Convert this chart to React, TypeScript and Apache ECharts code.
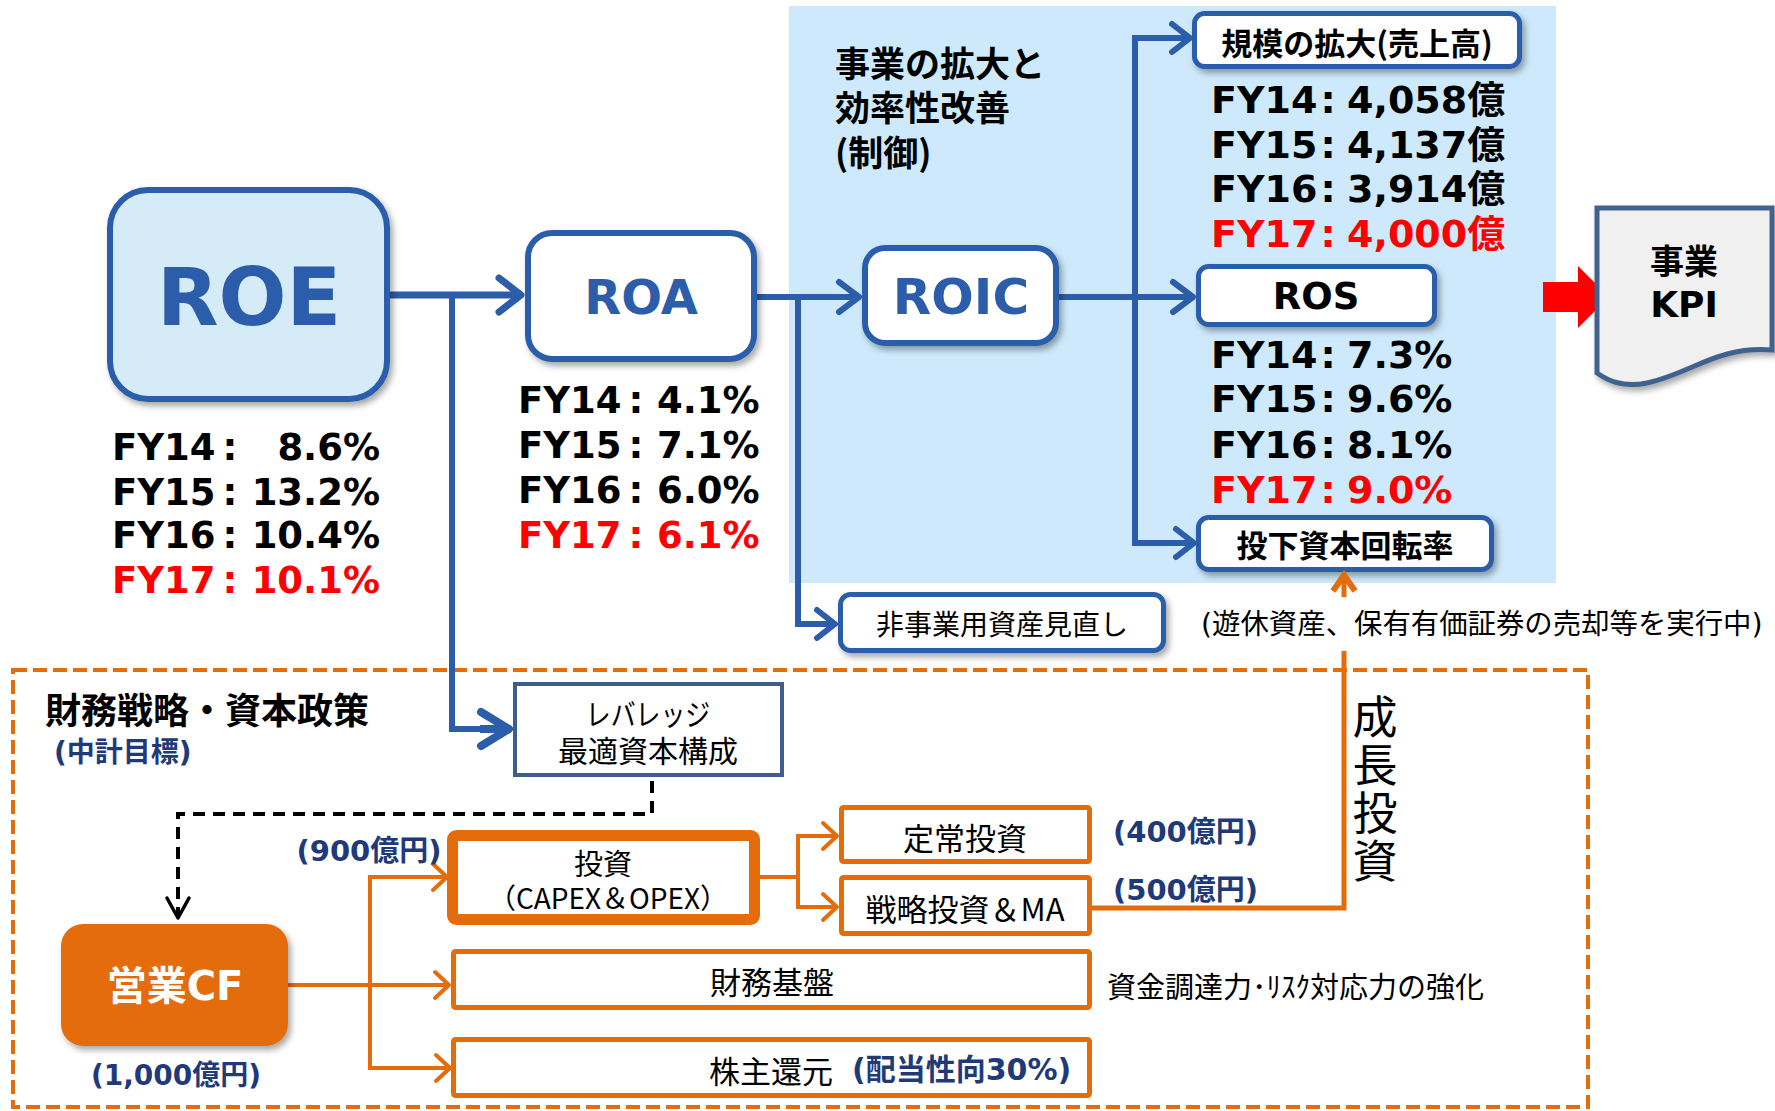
import React, { useEffect, useRef } from 'react';
import * as echarts from 'echarts';

// ---- data ----
const years = ['FY14', 'FY15', 'FY16', 'FY17'];
const roeValues = ['8.6%', '13.2%', '10.4%', '10.1%'];
const roaValues = ['4.1%', '7.1%', '6.0%', '6.1%'];
const salesValues = ['4,058億', '4,137億', '3,914億', '4,000億'];
const rosValues = ['7.3%', '9.6%', '8.1%', '9.0%'];
const controlTitle = ['事業の拡大と', '効率性改善', '(制御)'];
const growthChars = ['成', '長', '投', '資'];
const leverageLines = ['レバレッジ', '最適資本構成'];
const investLines = ['投資', '（CAPEX＆OPEX）'];
const investAmount = '(900億円)';
const regularAmount = '(400億円)';
const strategicAmount = '(500億円)';
const cfAmount = '(1,000億円)';
const payoutLabel = '(配当性向30%)';

// ---- styles ----
const LAT = '"DejaVu Sans", "Noto Sans CJK JP", sans-serif';
const CJK = '"Noto Sans CJK JP", "DejaVu Sans", sans-serif';
const BLUE = '#2c5daa';
const LIGHT = '#d5ebf8';
const BG = '#cde9fb';
const ORANGE = '#e46c0a';
const NAVY = '#1f3a7a';
const RED = '#ff0000';
const SH = { shadowBlur: 6, shadowOffsetX: 3, shadowOffsetY: 4, shadowColor: 'rgba(0,0,0,0.35)' };

echarts.graphic.registerShape(
  'kpiDoc',
  echarts.graphic.extendPath('M0,0 L175,0 L175,142 C120,138 95,165 50,175 C25,180 10,172 0,165 Z', {})
);

const f = (size: number, bold: boolean, fam = CJK) => `${bold ? 'bold ' : ''}${size}px ${fam}`;

function txt(x: number, y: number, s: string, font: string, fill = '#000', align = 'center', z = 5): any {
  return {
    type: 'text', x, y, z,
    style: { text: s, font, fill, textAlign: align, textVerticalAlign: 'middle', align, verticalAlign: 'middle' },
  };
}
function box(x: number, y: number, w: number, h: number, style: any, r = 0, z = 3): any {
  return { type: 'rect', z, shape: { x, y, width: w, height: h, r }, style };
}
function line(points: number[][], stroke: string, lineWidth: number, extra: any = {}, z = 2): any {
  return { type: 'polyline', z, shape: { points }, style: { stroke, lineWidth, fill: null, lineJoin: 'miter', ...extra } };
}
function chevronR(tx: number, ty: number, L: number, H: number, stroke: string, w: number, z = 4): any {
  return line([[tx - L, ty - H], [tx, ty], [tx - L, ty + H]], stroke, w, { lineCap: 'round', lineJoin: 'round' }, z);
}

function buildGraphics(): any[] {
  const g: any[] = [];
  // background panels
  g.push(box(789, 6, 767, 577, { fill: BG }, 0, 0));
  g.push(box(13, 670, 1575, 437, { fill: null, stroke: ORANGE, lineWidth: 4, lineDash: [14, 6] }, 0, 1));

  // blue connectors
  g.push(line([[390, 295], [518, 295]], BLUE, 7));
  g.push(chevronR(521, 295, 22, 17, BLUE, 7));
  g.push(line([[452, 295], [452, 729], [505, 729]], BLUE, 6));
  g.push(line([[480, 729], [505, 729]], BLUE, 8));
  g.push(chevronR(509, 729, 28, 17, BLUE, 8));
  g.push(line([[757, 297], [856, 297]], BLUE, 6));
  g.push(chevronR(859, 297, 20, 15, BLUE, 6));
  g.push(line([[798, 297], [798, 624], [832, 624]], BLUE, 6));
  g.push(chevronR(835, 624, 18, 14, BLUE, 6));
  g.push(line([[1059, 297], [1190, 297]], BLUE, 6));
  g.push(chevronR(1193, 297, 20, 15, BLUE, 6));
  g.push(line([[1186, 38], [1135, 38], [1135, 543], [1190, 543]], BLUE, 6));
  g.push(chevronR(1190, 38, 18, 14, BLUE, 6));
  g.push(chevronR(1194, 543, 18, 14, BLUE, 6));

  // blue boxes
  g.push(box(110, 190, 277, 209, { fill: LIGHT, stroke: BLUE, lineWidth: 6, ...SH }, 38));
  g.push(box(528, 233, 226, 126, { fill: '#fff', stroke: BLUE, lineWidth: 6, ...SH }, 24));
  g.push(box(865, 248, 191, 95, { fill: '#fff', stroke: BLUE, lineWidth: 6, ...SH }, 20));
  g.push(box(1194.5, 13.5, 325, 53, { fill: '#fff', stroke: BLUE, lineWidth: 5, ...SH }, 10));
  g.push(box(1198.5, 266.5, 236, 58, { fill: '#fff', stroke: BLUE, lineWidth: 5, ...SH }, 10));
  g.push(box(1198.5, 517.5, 293, 52, { fill: '#fff', stroke: BLUE, lineWidth: 5, ...SH }, 10));
  g.push(box(840.5, 594.5, 323, 56, { fill: '#fff', stroke: BLUE, lineWidth: 5, ...SH }, 10));

  g.push(txt(249, 297, 'ROE', f(80, true, LAT), BLUE));
  g.push(txt(641, 297, 'ROA', f(48, true, LAT), BLUE));
  g.push(txt(961, 297, 'ROIC', f(50, true, LAT), BLUE));
  g.push(txt(1357, 41, '規模の拡大(売上高)', f(31, true), '#000'));
  g.push(txt(1316, 296, 'ROS', f(37, true, LAT), '#000'));
  g.push(txt(1345, 543, '投下資本回転率', f(31, true), '#000'));
  g.push(txt(1002, 623, '非事業用資産見直し', f(28, false), '#000'));

  // title in blue panel
  const ctY = [61, 105, 150];
  controlTitle.forEach((s, i) => g.push(txt(835, ctY[i], s, f(35, true), '#000', 'left')));

  // value blocks
  const roeY = [447, 492, 535, 580];
  const roaY = [400, 445, 490, 535];
  const salesY = [100, 145, 189, 234];
  const rosY = [355, 399, 445, 490];
  years.forEach((yr, i) => {
    const c = i === years.length - 1 ? RED : '#000';
    // ROE
    g.push(txt(112, roeY[i], yr, f(37, true, LAT), c, 'left'));
    g.push(txt(230, roeY[i], ':', f(37, true, LAT), c, 'center'));
    g.push(txt(380, roeY[i], roeValues[i], f(37, true, LAT), c, 'right'));
    // ROA
    g.push(txt(518, roaY[i], yr, f(37, true, LAT), c, 'left'));
    g.push(txt(636, roaY[i], ':', f(37, true, LAT), c, 'center'));
    g.push(txt(657, roaY[i], roaValues[i], f(37, true, LAT), c, 'left'));
    // Sales
    g.push(txt(1211, salesY[i], yr, f(38, true, LAT), c, 'left'));
    g.push(txt(1328, salesY[i], ':', f(38, true, LAT), c, 'center'));
    g.push(txt(1347, salesY[i], salesValues[i], f(38, true, LAT), c, 'left'));
    // ROS
    g.push(txt(1211, rosY[i], yr, f(38, true, LAT), c, 'left'));
    g.push(txt(1328, rosY[i], ':', f(38, true, LAT), c, 'center'));
    g.push(txt(1347, rosY[i], rosValues[i], f(38, true, LAT), c, 'left'));
  });

  // red arrow + KPI document
  g.push({ type: 'polygon', z: 3, shape: { points: [[1543, 282], [1578, 282], [1578, 266], [1609, 297], [1578, 328], [1578, 312], [1543, 312]] }, style: { fill: RED } });
  g.push({ type: 'kpiDoc', z: 3, x: 1597, y: 208, style: { fill: '#f0f0f0', stroke: '#41628f', lineWidth: 5, ...SH } });
  g.push(txt(1684, 259, '事業', f(34, true), '#000'));
  g.push(txt(1684, 304, 'KPI', f(36, true, LAT), '#000'));

  // note
  g.push(txt(1201, 624, '(遊休資産、保有有価証券の売却等を実行中)', f(28.4, false, LAT), '#000', 'left'));

  // finance section titles
  g.push(txt(45, 708, '財務戦略・資本政策', f(36, true), '#000', 'left'));
  g.push(txt(54, 752, '(中計目標)', f(28, true, LAT), NAVY, 'left'));

  // leverage box
  g.push(box(515, 684, 267, 91, { fill: '#fff', stroke: '#3e5f8c', lineWidth: 4 }));
  const lev0 = txt(648, 712, leverageLines[0], f(30, false), '#000');
  lev0.scaleX = 0.83;
  g.push(lev0);
  g.push(txt(648, 749, leverageLines[1], f(30, false), '#000'));

  // dashed black connector
  g.push(line([[652, 781], [652, 814], [178, 814], [178, 916]], '#000', 4, { lineDash: [12, 8] }));
  g.push(line([[167, 898], [178, 918], [189, 898]], '#000', 3.5, { lineCap: 'round', lineJoin: 'round' }, 4));

  // orange connectors
  g.push(line([[288, 985], [447, 985]], ORANGE, 4));
  g.push(chevronR(449, 985, 14, 13, ORANGE, 4));
  g.push(line([[445, 877], [370, 877], [370, 1068], [447, 1068]], ORANGE, 4));
  g.push(chevronR(447, 877, 14, 13, ORANGE, 4));
  g.push(chevronR(450, 1068, 14, 13, ORANGE, 4));
  g.push(line([[760, 877], [798, 877]], ORANGE, 4));
  g.push(line([[834, 836], [798, 836], [798, 907], [834, 907]], ORANGE, 4));
  g.push(chevronR(837, 836, 14, 13, ORANGE, 4));
  g.push(chevronR(837, 907, 14, 13, ORANGE, 4));
  g.push(line([[1092, 908], [1344, 908], [1344, 651]], ORANGE, 5));
  g.push(line([[1344, 597], [1344, 578]], ORANGE, 5));
  g.push(line([[1333, 591], [1344, 575], [1355, 591]], ORANGE, 6, { lineJoin: 'miter' }, 4));

  // CF box
  g.push(box(61, 924, 227, 122, { fill: ORANGE, ...SH }, 22));
  g.push(txt(175, 986, '営業CF', f(40, true, LAT), '#fff'));
  g.push(txt(176, 1075, cfAmount, f(28, true, LAT), NAVY));

  // orange boxes
  g.push(box(452.5, 835.5, 302, 84, { fill: '#fff', stroke: ORANGE, lineWidth: 11 }, 4));
  g.push(txt(603, 862, investLines[0], f(29, false), '#000'));
  g.push(txt(608, 897, investLines[1], f(28, false), '#000'));
  g.push(txt(369, 851, investAmount, f(29, true, LAT), NAVY));

  g.push(box(841.5, 807.5, 248, 54, { fill: '#fff', stroke: ORANGE, lineWidth: 5 }, 2));
  g.push(txt(965, 836, '定常投資', f(31, false), '#000'));
  g.push(box(841.5, 877.5, 248, 56, { fill: '#fff', stroke: ORANGE, lineWidth: 5 }, 2));
  g.push(txt(965, 907, '戦略投資＆MA', f(31, false), '#000'));
  g.push(txt(1113, 832, regularAmount, f(29, true, LAT), NAVY, 'left'));
  g.push(txt(1113, 890, strategicAmount, f(29, true, LAT), NAVY, 'left'));

  g.push(box(453.5, 951.5, 636, 56, { fill: '#fff', stroke: ORANGE, lineWidth: 5 }, 2));
  g.push(txt(772, 980, '財務基盤', f(31, false), '#000'));
  g.push(txt(1107, 985, '資金調達力･ﾘｽｸ対応力の強化', f(29, false), '#000', 'left'));

  g.push(box(453.5, 1039.5, 636, 56, { fill: '#fff', stroke: ORANGE, lineWidth: 5 }, 2));
  g.push(txt(709, 1069, '株主還元', f(31, false), '#000', 'left'));
  g.push(txt(852, 1069, payoutLabel, f(30, true, LAT), NAVY, 'left'));

  // vertical label (one multi-line text)
  const vt = txt(1375, 786, growthChars.join('\n'), f(45, false), '#000');
  vt.style.lineHeight = 48;
  g.push(vt);

  return g;
}

export default function App() {
  const ref = useRef<HTMLDivElement>(null);
  useEffect(() => {
    if (!ref.current) return;
    const chart = echarts.init(ref.current, null, { renderer: 'svg' });
    chart.setOption({
      animation: false,
      backgroundColor: '#ffffff',
      graphic: { elements: buildGraphics() },
    });
    return () => chart.dispose();
  }, []);
  return (
    <div
      ref={ref}
      style={{ position: 'fixed', left: 0, top: 0, width: 1775, height: 1111, background: '#fff' }}
    />
  );
}
